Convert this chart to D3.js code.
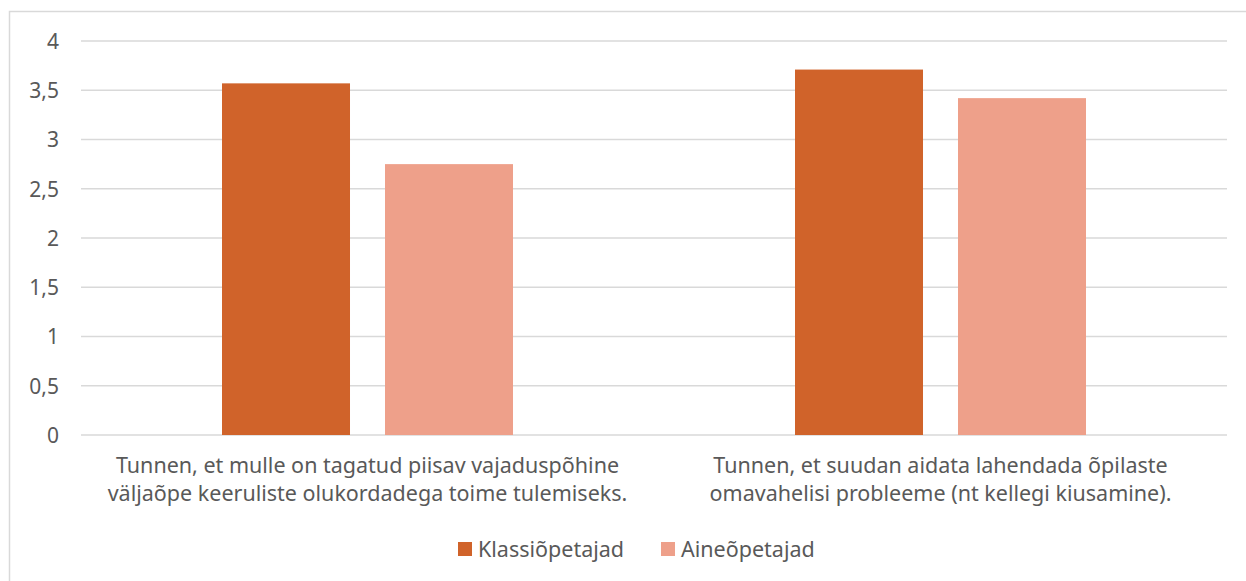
<!DOCTYPE html>
<meta charset="utf-8">
<style>
  body{ margin:0; background:#fff; }
  text{ font-family: "Noto Sans", "Open Sans", Arial, sans-serif; fill:#595959; }
  .tick text{ font-size:21px; }
  .cat{ font-size:21.5px; }
  .legend text{ font-size:21.5px; }
</style>
<body>
<div id="container"></div>
<script src="https://d3js.org/d3.v7.min.js"></script>
<script>

var categories = [
  ["Tunnen, et mulle on tagatud piisav vajaduspõhine", "väljaõpe keeruliste olukordadega toime tulemiseks."],
  ["Tunnen, et suudan aidata lahendada õpilaste", "omavahelisi probleeme (nt kellegi kiusamine)."]
];
var series = ["Klassiõpetajad", "Aineõpetajad"];
var klassiValues = [3.57, 3.71];
var aineValues = [2.75, 3.42];
var yTicks = [0, 0.5, 1, 1.5, 2, 2.5, 3, 3.5, 4];
var colors = ["#d0632a", "#eea08a"];

var W = 1246, H = 581;
var svg = d3.select('#container').append('svg').attr('width', W).attr('height', H);

// chart frame
svg.append('rect').attr('x', 9.5).attr('y', 11.5).attr('width', W).attr('height', H)
  .attr('fill', 'none').attr('stroke', '#d9d9d9').attr('stroke-width', 1.5);

var plotLeft = 81, plotRight = 1227, plotTop = 41, plotBottom = 435;

var y = d3.scaleLinear().domain([0, 4]).range([plotBottom, plotTop]);
var x0 = d3.scaleBand().domain(d3.range(categories.length)).range([plotLeft, plotRight]).padding(0);
var groupW = 291;
var x1 = d3.scaleBand().domain(series).range([0, groupW]).paddingInner(0.2147);

// grid lines
svg.append('g').selectAll('line').data(yTicks).join('line')
  .attr('x1', plotLeft).attr('x2', plotRight)
  .attr('y1', d => y(d)).attr('y2', d => y(d))
  .attr('stroke', '#d9d9d9').attr('stroke-width', 1.5);

// y axis labels
var yAxis = svg.append('g').attr('transform', 'translate(' + (plotLeft - 22) + ',0)')
  .call(d3.axisLeft(y).tickValues(yTicks).tickSize(0).tickFormat(d => String(d).replace('.', ',')));
yAxis.select('.domain').remove();
yAxis.selectAll('text').attr('x', 0).attr('dy', '0.35em').attr('fill', '#595959');

// bars
var data = categories.map((c, i) => ({ i: i, vals: [klassiValues[i], aineValues[i]] }));
var groups = svg.append('g').selectAll('g').data(data).join('g')
  .attr('transform', d => 'translate(' + (x0(d.i) + (x0.bandwidth() - groupW) / 2) + ',0)');
groups.selectAll('rect').data(d => d.vals.map((v, k) => ({ s: series[k], v: v, k: k }))).join('rect')
  .attr('x', d => x1(d.s))
  .attr('width', x1.bandwidth())
  .attr('y', d => y(d.v))
  .attr('height', d => y(0) - y(d.v))
  .attr('fill', d => colors[d.k]);

// category labels
svg.append('g').selectAll('text').data(categories).join('text')
  .attr('class', 'cat')
  .attr('text-anchor', 'middle')
  .attr('x', (d, i) => x0(i) + x0.bandwidth() / 2)
  .attr('y', 473)
  .selectAll('tspan').data(d => d).join('tspan')
  .attr('x', function(){ return this.parentNode.getAttribute('x'); })
  .attr('dy', (d, j) => j === 0 ? 0 : 28)
  .text(d => d);

// legend
var legend = svg.append('g').attr('class', 'legend');
var lx = [458, 661];
series.forEach(function(s, k){
  legend.append('rect').attr('x', lx[k]).attr('y', 542).attr('width', 14).attr('height', 14).attr('fill', colors[k]);
  legend.append('text').attr('x', lx[k] + 20).attr('y', 549).attr('dy', '0.35em').text(s);
});

</script>
</body>
